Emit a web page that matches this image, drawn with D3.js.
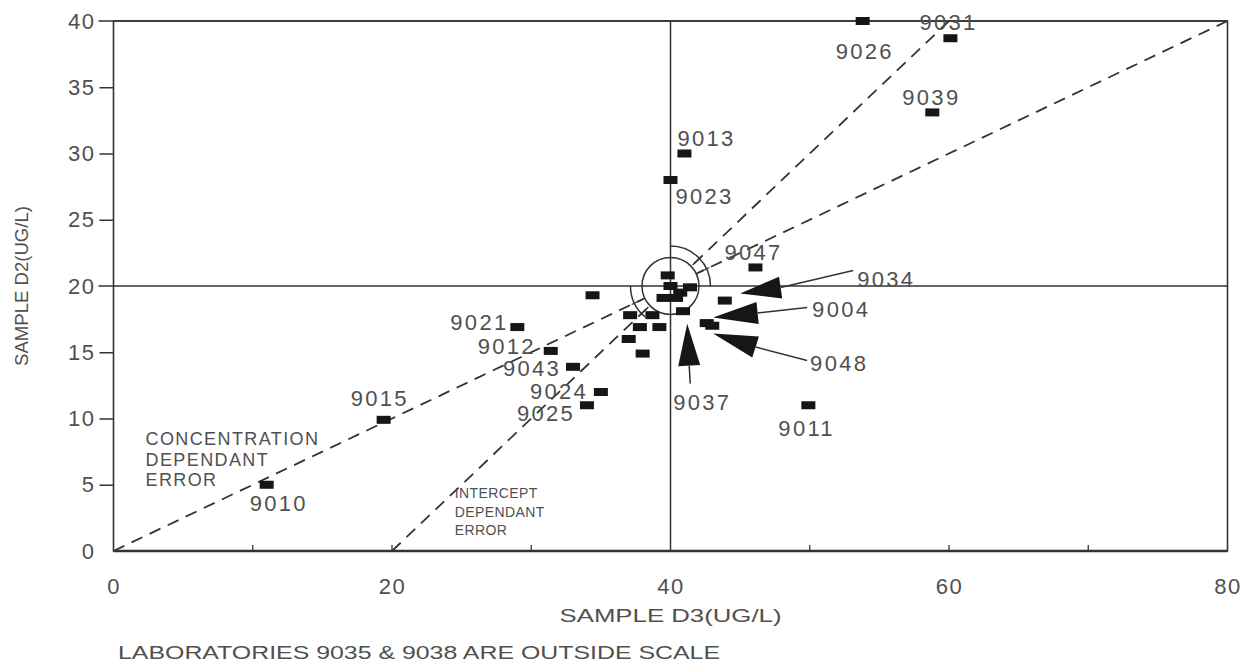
<!DOCTYPE html>
<html>
<head>
<meta charset="utf-8">
<script src="https://cdn.jsdelivr.net/npm/d3@7"></script>
<style>
  body { margin: 0; background: #fff; }
  text { font-family: "Liberation Sans", Arial, sans-serif; fill: #505050; }
</style>
</head>
<body>
<div id="chart"></div>
<script>
// lab results (sample D3 on x, sample D2 on y)
const labIds = ["9026", "9031", "9039", "9013", "9023", "9047", "9011", "9021", "9012", "9043",
  "9024", "9025", "9015", "9010", "", "", "", "", "", "", "", "", "", "", "", "", "", "", "", "", ""];
const sampleD3 = [53.8, 60.1, 58.8, 41.0, 40.0, 46.1, 49.9, 29.0, 31.4, 33.0,
  35.0, 34.0, 19.4, 11.0, 34.4, 37.1, 38.7, 37.8, 39.2, 37.0, 38.0, 42.6, 43.0, 43.9, 39.8, 39.5, 40.7, 41.4, 40.9, 40.0, 40.4];
const sampleD2 = [40.0, 38.7, 33.1, 30.0, 28.0, 21.4, 11.0, 16.9, 15.1, 13.9,
  12.0, 11.0, 9.9, 5.0, 19.3, 17.8, 17.8, 16.9, 16.9, 16.0, 14.9, 17.2, 17.0, 18.9, 20.8, 19.1, 19.5, 19.9, 18.1, 20.0, 19.1];

// labs marked with an arrow (arrow tip position)
const arrowLabs = ["9034", "9004", "9048", "9037"];
const arrowD3 = [45.0, 43.06, 43.06, 41.2];
const arrowD2 = [19.43, 17.62, 16.41, 17.16];

const xTicks = [0, 20, 40, 60, 80];
const xMinorTicks = [10, 20, 30, 50, 60, 70];
const yTicks = [0, 5, 10, 15, 20, 25, 30, 35, 40];

// label placement, pixels from the point
const labelOffset = {
  "9026": [-27, 38], "9031": [-31, -8], "9039": [-30, -7], "9013": [-7, -8], "9023": [5, 24],
  "9047": [-31, -7], "9011": [-30, 31], "9021": [-67, 3], "9012": [-73, 3], "9043": [-70, 9],
  "9024": [-71, 7], "9025": [-70, 16], "9015": [-33, -14], "9010": [-17, 26]
};
// arrow geometry, pixels from the tip: base centre, line end, label
const arrowShape = {
  "9034": { base: [40.5, -6], end: [113, -23], label: [117, -7] },
  "9004": { base: [44.5, -4.5], end: [94, -10], label: [99, -1] },
  "9048": { base: [42.5, 13.5], end: [94, 27], label: [97, 37] },
  "9037": { base: [2, 42], end: [3, 60], label: [-14, 86] }
};

const W = 1247, H = 664;
const margin = { top: 21, right: 19.5, bottom: 113, left: 113.5 };
const width = W - margin.left - margin.right,
      height = H - margin.top - margin.bottom;

const svg = d3.select("#chart").append("svg")
  .attr("width", W).attr("height", H);

const g = svg.append("g")
  .attr("transform", "translate(" + margin.left + "," + margin.top + ")");

const x = d3.scaleLinear().domain([0, 80]).range([0, width]);
const y = d3.scaleLinear().domain([0, 40]).range([height, 0]);

const ink = "#333";
const cx = x(40), cy = y(20), r0 = 28.5, r1 = 40;

// frame
g.append("rect").attr("width", width).attr("height", height)
  .attr("fill", "none").attr("stroke", ink).attr("stroke-width", 1.6);
g.append("line").attr("x1", 0).attr("x2", width).attr("y1", height).attr("y2", height)
  .attr("stroke", ink).attr("stroke-width", 2.4);
// cross lines at 40 / 20 and top
g.append("line").attr("x1", x(40)).attr("x2", x(40)).attr("y1", 0).attr("y2", height)
  .attr("stroke", ink).attr("stroke-width", 1.5);
[20, 40].forEach(v => {
  g.append("line").attr("x1", -15).attr("x2", width).attr("y1", y(v)).attr("y2", y(v))
    .attr("stroke", ink).attr("stroke-width", 1.5);
});

// y ticks
const yAxis = g.append("g")
  .call(d3.axisLeft(y).tickValues(yTicks).tickSize(14).tickPadding(4).tickFormat(d3.format("d")));
yAxis.select(".domain").remove();
yAxis.selectAll("line").attr("stroke", ink).attr("stroke-width", 1.5)
  .filter(d => d === 0 || d === 20 || d === 40).remove();
yAxis.selectAll("text").attr("font-size", 22).attr("letter-spacing", 1.5)
  .attr("font-family", "Liberation Sans").style("fill", "#505050");

// x ticks
const xAxis = g.append("g").attr("transform", "translate(0," + height + ")")
  .call(d3.axisBottom(x).tickValues(xTicks).tickSize(0).tickPadding(27).tickFormat(d3.format("d")));
xAxis.select(".domain").remove();
xAxis.selectAll("text").attr("font-size", 22).attr("letter-spacing", 1.5)
  .attr("font-family", "Liberation Sans").style("fill", "#505050");
g.append("g").selectAll("line").data(xMinorTicks).enter().append("line")
  .attr("x1", d => x(d)).attr("x2", d => x(d))
  .attr("y1", height).attr("y2", height - 6)
  .attr("stroke", ink).attr("stroke-width", 1.3);

// reference lines: concentration dependant (slope 0.5) and intercept dependant (slope 1)
// both are broken where they pass through the centre circle
const refLines = [[[0, 0], [80, 40]], [[20, 0], [60, 40]]];
const segs = [];
refLines.forEach(l => {
  const x1 = x(l[0][0]), y1 = y(l[0][1]), x2 = x(l[1][0]), y2 = y(l[1][1]);
  const dx = x2 - x1, dy = y2 - y1, L2 = dx * dx + dy * dy;
  const t = ((cx - x1) * dx + (cy - y1) * dy) / L2;
  const dist = Math.hypot(x1 + t * dx - cx, y1 + t * dy - cy);
  const half = Math.sqrt(Math.max(0, r0 * r0 - dist * dist)) / Math.sqrt(L2);
  segs.push([[x1, y1], [x1 + (t - half) * dx, y1 + (t - half) * dy]]);
  segs.push([[x2, y2], [x1 + (t + half) * dx, y1 + (t + half) * dy]]);
});
g.append("g").selectAll("path").data(segs).enter().append("path")
  .attr("d", d3.line())
  .attr("fill", "none").attr("stroke", ink).attr("stroke-width", 1.8).attr("stroke-dasharray", "12,8");

// centre circle and arcs
g.append("circle").attr("cx", cx).attr("cy", cy).attr("r", r0)
  .attr("fill", "none").attr("stroke", ink).attr("stroke-width", 1.5);
const arc = d3.arc().innerRadius(r1).outerRadius(r1);
g.append("path").attr("transform", "translate(" + cx + "," + cy + ")")
  .attr("d", arc({ startAngle: 0, endAngle: Math.PI / 2 }))
  .attr("fill", "none").attr("stroke", ink).attr("stroke-width", 1.5);
g.append("path").attr("transform", "translate(" + cx + "," + cy + ")")
  .attr("d", arc({ startAngle: 1.22 * Math.PI, endAngle: 1.5 * Math.PI }))
  .attr("fill", "none").attr("stroke", ink).attr("stroke-width", 1.5);
// small radial marks where the reference lines cross the arcs
const angles = refLines.map(l => Math.atan2(y(l[0][1]) - y(l[1][1]), x(l[1][0]) - x(l[0][0])));
angles.forEach(a => {
  [1, -1].forEach(s => {
    g.append("line")
      .attr("x1", cx + s * Math.cos(a) * (r0 + 2)).attr("y1", cy - s * Math.sin(a) * (r0 + 2))
      .attr("x2", cx + s * Math.cos(a) * (r1 + 3)).attr("y2", cy - s * Math.sin(a) * (r1 + 3))
      .attr("stroke", ink).attr("stroke-width", 1.3);
  });
});

// points
const points = labIds.map((id, i) => ({ id: id, d3: sampleD3[i], d2: sampleD2[i] }));
g.append("g").selectAll("rect").data(points).enter().append("rect")
  .attr("x", d => x(d.d3) - 7).attr("y", d => y(d.d2) - 4)
  .attr("width", 14).attr("height", 8).attr("fill", "#161616");

g.append("g").selectAll("text").data(points.filter(d => d.id)).enter().append("text")
  .attr("x", d => x(d.d3) + labelOffset[d.id][0])
  .attr("y", d => y(d.d2) + labelOffset[d.id][1])
  .attr("font-size", 22).attr("letter-spacing", 2.3)
  .text(d => d.id);

// arrow markers
const arrows = arrowLabs.map((id, i) => ({ id: id, d3: arrowD3[i], d2: arrowD2[i] }));
const ag = g.append("g");
arrows.forEach(a => {
  const s = arrowShape[a.id];
  const tx = x(a.d3), ty = y(a.d2);
  const bx = tx + s.base[0], by = ty + s.base[1];
  const len = Math.hypot(s.base[0], s.base[1]);
  const nx = -s.base[1] / len * 11, ny = s.base[0] / len * 11;
  ag.append("path")
    .attr("d", d3.line()([[tx, ty], [bx + nx, by + ny], [bx - nx, by - ny]]) + "Z")
    .attr("fill", "#161616");
  ag.append("line").attr("x1", bx).attr("y1", by)
    .attr("x2", tx + s.end[0]).attr("y2", ty + s.end[1])
    .attr("stroke", ink).attr("stroke-width", 1.5);
  ag.append("text").attr("x", tx + s.label[0]).attr("y", ty + s.label[1])
    .attr("font-size", 22).attr("letter-spacing", 2.3).text(a.id);
});

// region notes
g.append("text").attr("x", x(2.3)).attr("y", y(8.0)).attr("font-size", 18).attr("letter-spacing", 1.4)
  .selectAll("tspan").data(["CONCENTRATION", "DEPENDANT", "ERROR"]).enter().append("tspan")
  .attr("x", x(2.3)).attr("dy", (d, i) => i ? 20.5 : 0).text(d => d);
g.append("text").attr("x", x(24.5)).attr("y", y(4.0)).attr("font-size", 14).attr("letter-spacing", 0.4)
  .selectAll("tspan").data(["INTERCEPT", "DEPENDANT", "ERROR"]).enter().append("tspan")
  .attr("x", x(24.5)).attr("dy", (d, i) => i ? 18.5 : 0).text(d => d);

// axis titles
svg.append("text").attr("x", margin.left + x(40)).attr("y", 622)
  .attr("text-anchor", "middle").attr("font-size", 19)
  .attr("textLength", 222).attr("lengthAdjust", "spacingAndGlyphs")
  .text("SAMPLE D3(UG/L)");
svg.append("text").attr("transform", "translate(28," + (margin.top + y(20)) + ") rotate(-90)")
  .attr("text-anchor", "middle").attr("font-size", 19)
  .attr("textLength", 160).attr("lengthAdjust", "spacingAndGlyphs")
  .text("SAMPLE D2(UG/L)");
svg.append("text").attr("x", 118).attr("y", 659).attr("font-size", 19)
  .attr("textLength", 602).attr("lengthAdjust", "spacingAndGlyphs")
  .text("LABORATORIES 9035 & 9038 ARE OUTSIDE SCALE");
</script>
</body>
</html>
